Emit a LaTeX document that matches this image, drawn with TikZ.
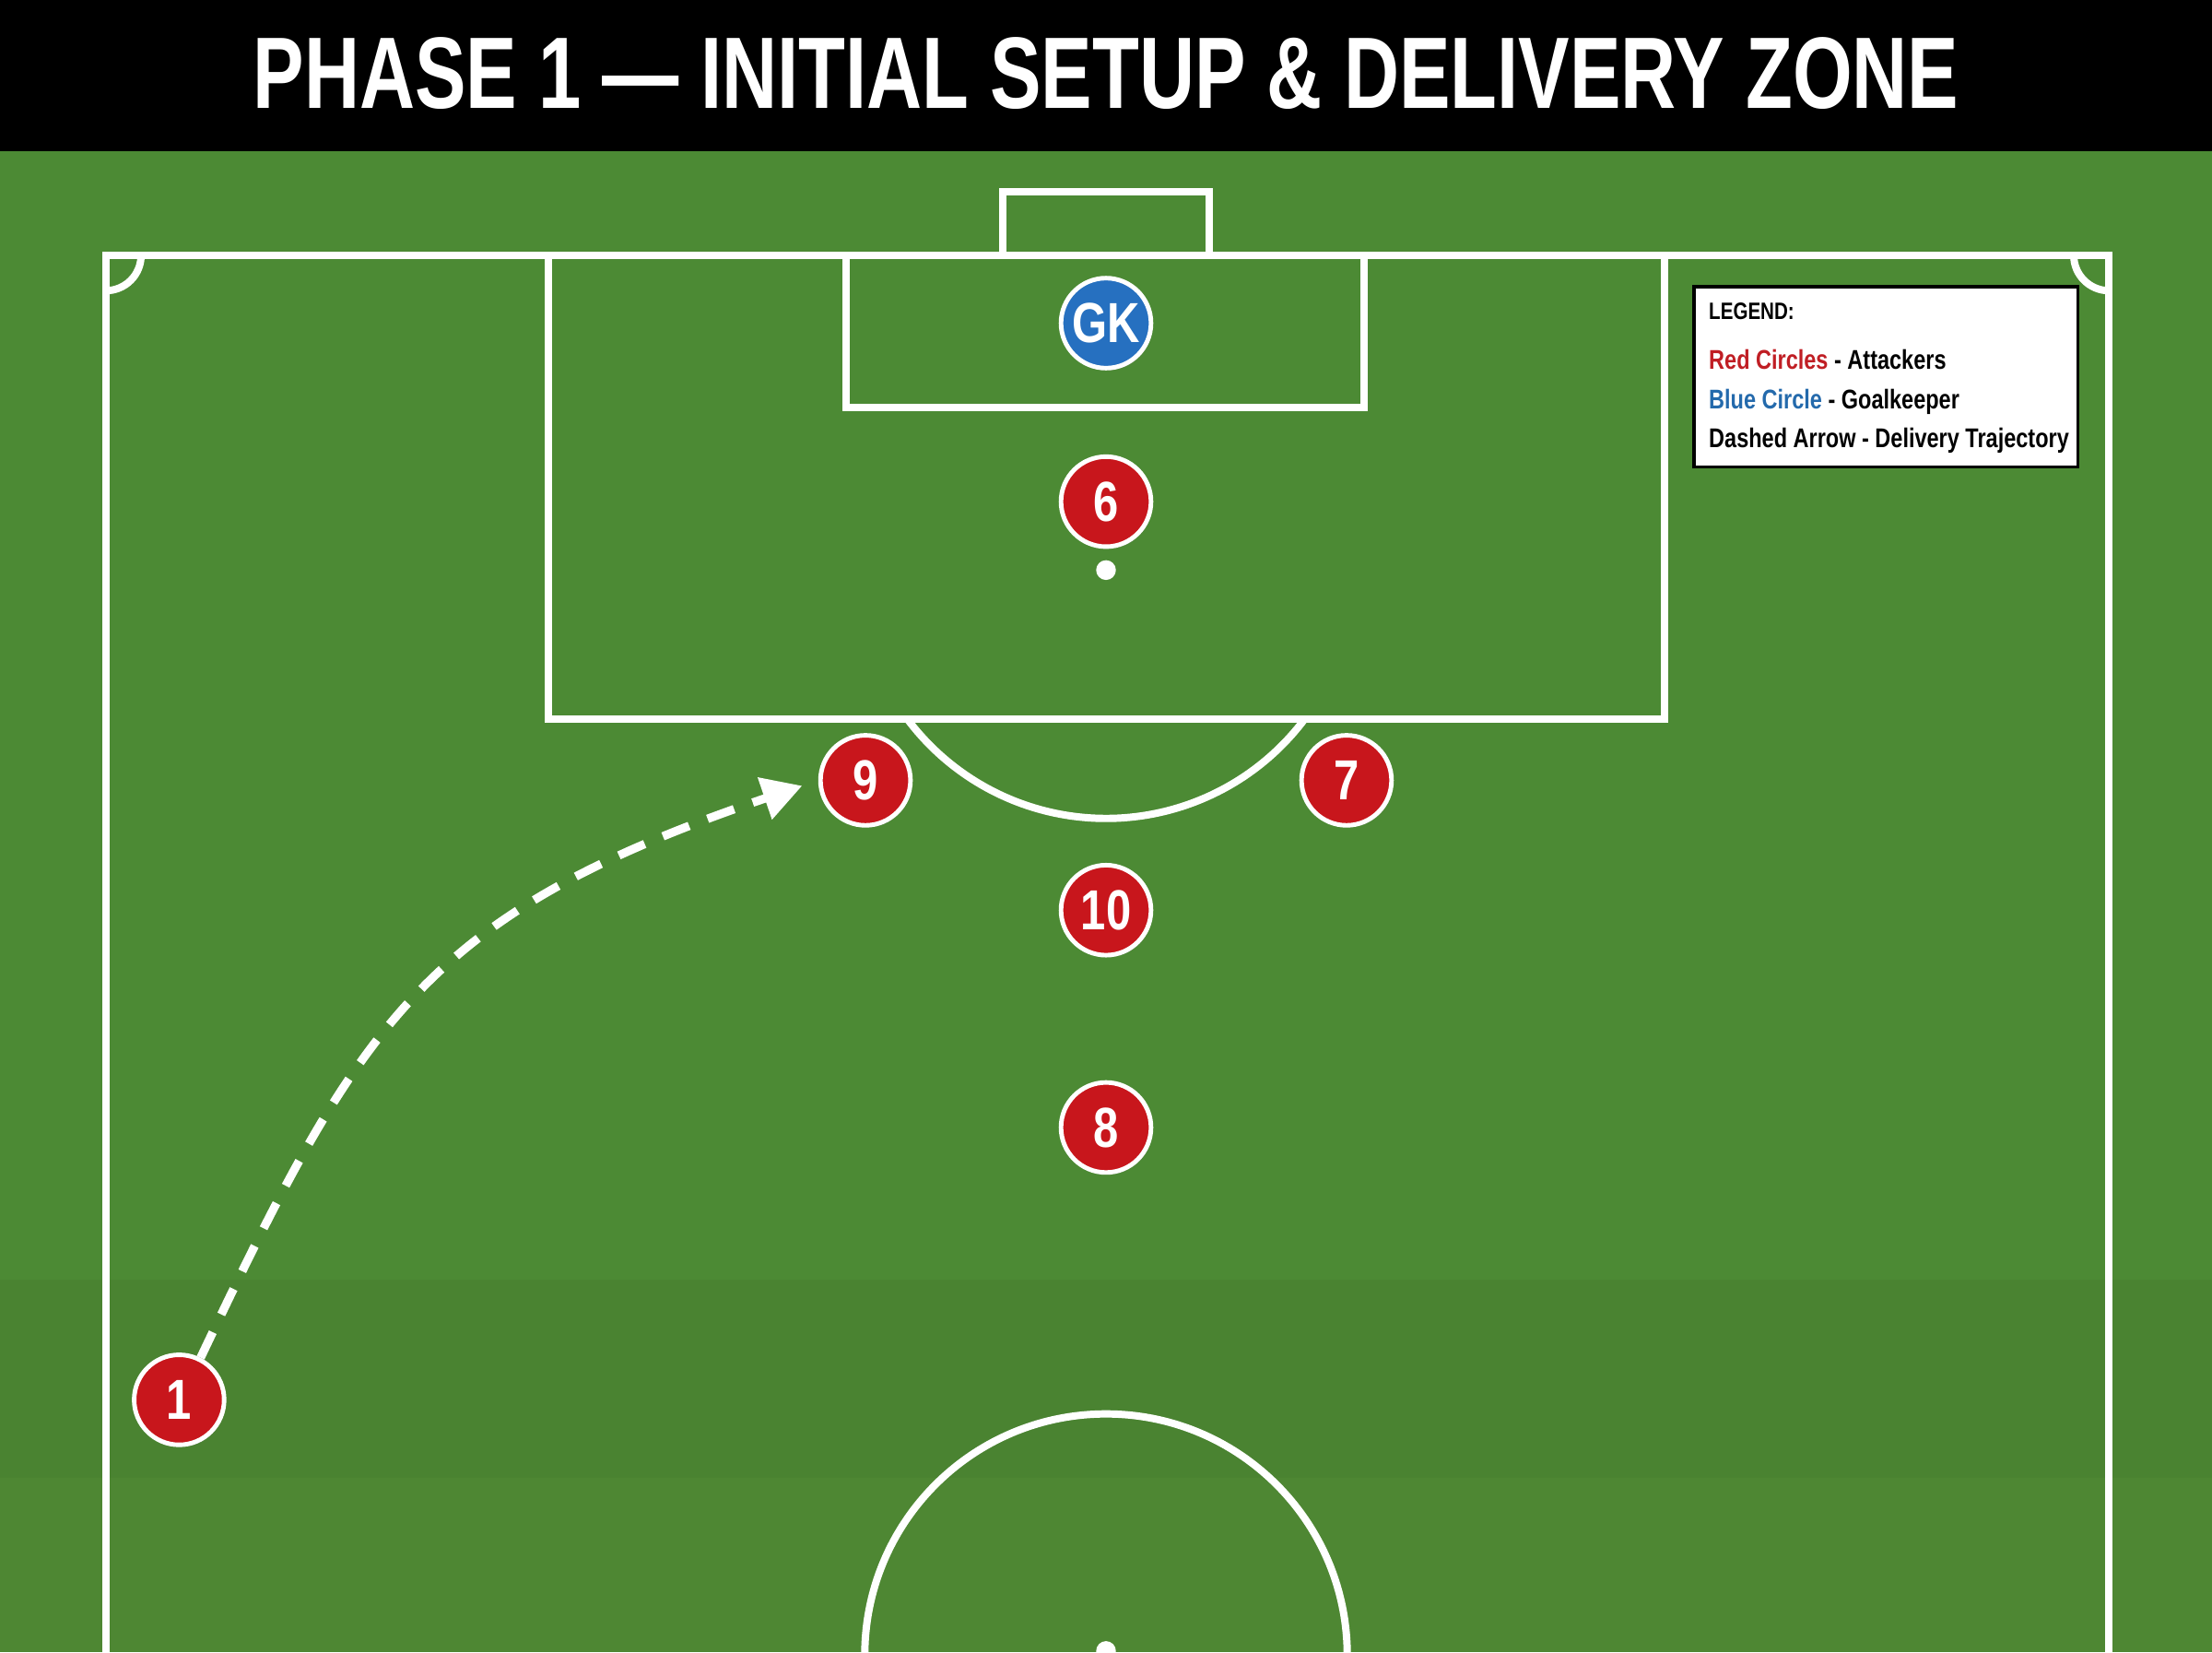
\documentclass[tikz,border=0pt]{standalone}
\usepackage{fontspec}
\newfontfamily\cond[FakeStretch=0.8]{Liberation Sans}
\newfontfamily\tcond[FakeStretch=0.755]{Liberation Sans}
\usetikzlibrary{arrows.meta,shadows}
\definecolor{fieldA}{RGB}{76,138,52}
\definecolor{fieldB}{RGB}{74,131,49}
\definecolor{fieldC}{RGB}{78,135,51}
\definecolor{pred}{RGB}{200,22,28}
\definecolor{pblue}{RGB}{38,112,192}
\definecolor{lgred}{RGB}{192,30,36}
\definecolor{lgblue}{RGB}{36,106,172}
\tikzset{
  fieldline/.style={draw=white, line width=2.6pt},
  player/.style={circle, draw=white, line width=1.6pt, minimum size=31.9pt, inner sep=0pt,
    text=white, font=\cond\bfseries\fontsize{20}{20}\selectfont,
    drop shadow={shadow xshift=0.5pt, shadow yshift=-0.8pt, opacity=0.3}},
  attacker/.style={player, fill=pred},
  keeper/.style={player, fill=pblue},
  delivery/.style={draw=white, line width=3pt, dash pattern=on 10pt off 7pt,
    -{Triangle[length=14pt,width=15pt]}, shorten >=6pt},
  legendbox/.style={draw=black, line width=1.2pt, fill=white, minimum width=136pt,
    minimum height=64pt, inner sep=0pt},
  legendtext/.style={anchor=base west, inner sep=0pt, font=\cond\bfseries\fontsize{9.6}{11}\selectfont},
}
\begin{document}
\begin{tikzpicture}[x=0.5pt,y=-0.5pt]
\useasboundingbox (0,0) rectangle (1568,1171);
\begin{scope}
\clip (0,0) rectangle (1568,1171);
% background
\fill[black] (0,0) rectangle (1568,107);
\fill[fieldA] (0,107) rectangle (1568,907);
\fill[fieldB] (0,907) rectangle (1568,1047);
\fill[fieldC] (0,1047) rectangle (1568,1171);
% title
\node[anchor=base, text=white, inner sep=0pt, font=\tcond\bfseries\fontsize{36}{38}\selectfont]
  (title) at (784,77) {PHASE 1 — INITIAL SETUP \& DELIVERY ZONE};
% pitch lines
\draw[fieldline] (711,181) -- (711,136) -- (857,136) -- (857,181);
\draw[fieldline] (75,1190) -- (75,181) -- (1495,181) -- (1495,1190);
\draw[fieldline] (389,181) -- (389,509.6) -- (1180,509.6) -- (1180,181);
\draw[fieldline] (600,181) -- (600,289) -- (967,289) -- (967,181);
\draw[fieldline] (924.8,509.6) arc[start angle=-36.87, end angle=-143.13, radius=88pt];
\fill[white] (784,404) circle[radius=3.5pt];
\draw[fieldline] (75,181) ++(12.5pt,0) arc[start angle=0, end angle=-90, radius=12.5pt];
\draw[fieldline] (1495,181) ++(-12.5pt,0) arc[start angle=180, end angle=270, radius=12.5pt];
\draw[fieldline] (784,1173) circle[radius=85.5pt];
\fill[white] (784,1170) circle[radius=3.5pt];
% players
\node[keeper] (gk) at (784,229) {GK};
\node[attacker] (p6) at (784,355.5) {6};
\node[attacker] (p9) at (613.5,553) {9};
\node[attacker] (p7) at (954.5,553) {7};
\node[attacker] (p10) at (784,645) {10};
\node[attacker] (p8) at (784,799) {8};
\node[attacker] (p1) at (127,992) {1};
% delivery trajectory
\draw[delivery] (p1.63) .. controls (255,725) and (300,648) .. (p9.west);
% legend
\node[legendbox] (legend) at (1337,267) {};
\node[legendtext, font=\cond\bfseries\fontsize{8.4}{10}\selectfont] (lgtitle) at (1211,226.5) {LEGEND:};
\node[legendtext] (lgred) at (1211,261.8) {\textcolor{lgred}{Red Circles} - Attackers};
\node[legendtext] (lgblue) at (1211,289.6) {\textcolor{lgblue}{Blue Circle} - Goalkeeper};
\node[legendtext] (lgdash) at (1211,316.9) {Dashed Arrow - Delivery Trajectory};
\end{scope}
\end{tikzpicture}
\end{document}
